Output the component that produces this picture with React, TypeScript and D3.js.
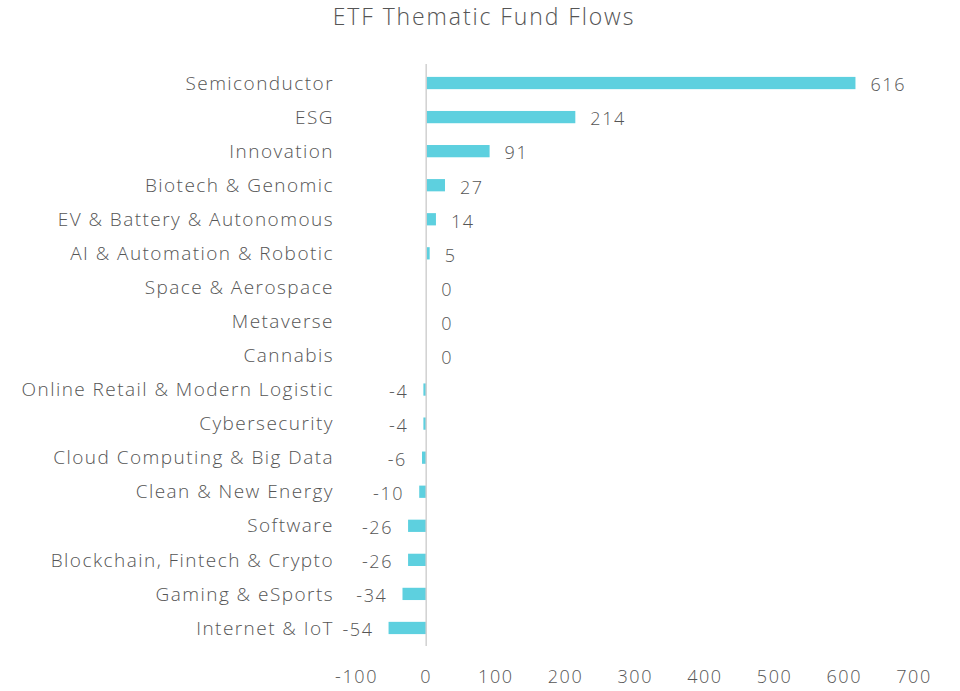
import React from "react";
import * as d3 from "d3";

const categories = [
  "Semiconductor",
  "ESG",
  "Innovation",
  "Biotech & Genomic",
  "EV & Battery & Autonomous",
  "AI & Automation & Robotic",
  "Space & Aerospace",
  "Metaverse",
  "Cannabis",
  "Online Retail & Modern Logistic",
  "Cybersecurity",
  "Cloud Computing & Big Data",
  "Clean & New Energy",
  "Software",
  "Blockchain, Fintech & Crypto",
  "Gaming & eSports",
  "Internet & IoT",
];
const values = [616, 214, 91, 27, 14, 5, 0, 0, 0, -4, -4, -6, -10, -26, -26, -34, -54];
const xTicks = [-100, 0, 100, 200, 300, 400, 500, 600, 700];
const title = "ETF Thematic Fund Flows";

const W = 960;
const H = 691;
const FONT = "'Open Sans', sans-serif";
const TEXT = "#555555";
const BAR = "#5dd0df";
const LS = 1.6;

export default function App() {
  const x = d3.scaleLinear().domain([-100, 700]).range([356.5, 914]);
  const y = d3
    .scaleBand<string>()
    .domain(categories)
    .range([66, 645])
    .paddingInner(0.64)
    .paddingOuter(0.32);
  const bh = y.bandwidth();
  const x0 = x(0);
  return (
    <svg
      width={W}
      height={H}
      style={{ position: "absolute", left: 0, top: 0, background: "#fff" }}
      fontFamily={FONT}
      fontWeight={300}
      letterSpacing={LS}
    >
      <text x={484} y={25} textAnchor="middle" fontSize={23} letterSpacing={1.9} fill={TEXT}>
        {title}
      </text>
      {categories.map((c, i) => {
        const v = values[i];
        const yc = (y(c) as number) + bh / 2;
        const x1 = x(Math.min(0, v));
        const x2 = x(Math.max(0, v));
        return (
          <g key={c}>
            <rect x={x1} y={yc - bh / 2} width={x2 - x1} height={bh} fill={BAR} />
            <text
              x={334}
              y={yc}
              dy="0.35em"
              textAnchor="end"
              fontSize={19}
              letterSpacing={1.45}
              fill={TEXT}
            >
              {c}
            </text>
            <text
              x={v < 0 ? x(v) - 15 : x(v) + 15}
              y={yc + 2}
              dy="0.35em"
              textAnchor={v < 0 ? "end" : "start"}
              fontSize={18}
              fill={TEXT}
            >
              {v}
            </text>
          </g>
        );
      })}
      <line x1={x0} x2={x0} y1={64} y2={646} stroke="#d0d0d0" strokeWidth={1.5} />
      {xTicks.map((t) => (
        <text key={t} x={x(t)} y={677} dy="0.35em" textAnchor="middle" fontSize={18} fill={TEXT}>
          {t}
        </text>
      ))}
    </svg>
  );
}
